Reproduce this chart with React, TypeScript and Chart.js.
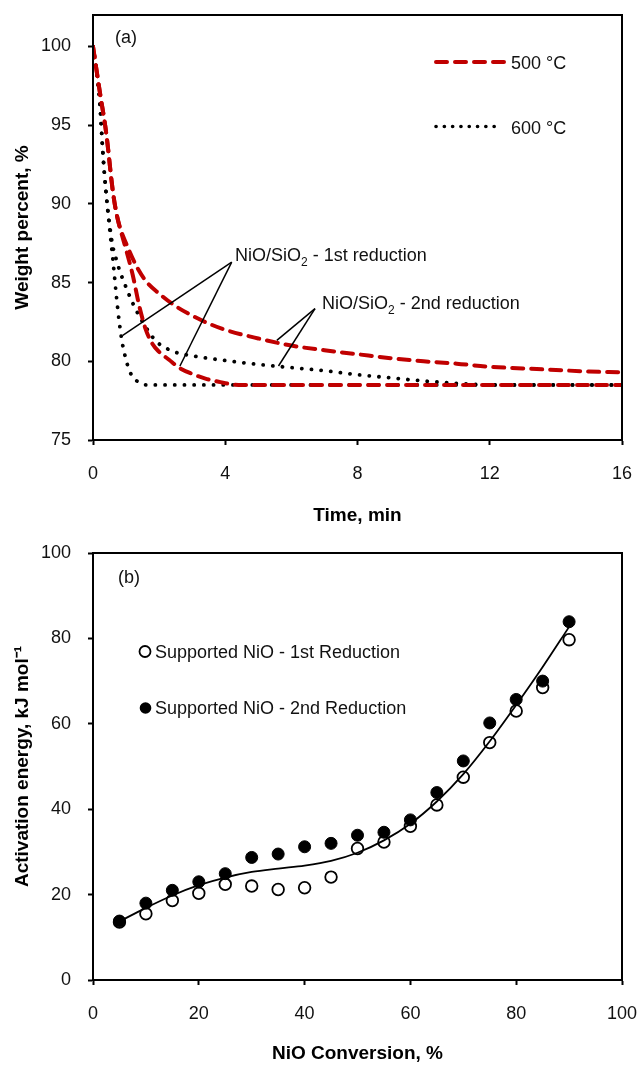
import React, { useEffect, useRef } from 'react';
import { Chart, registerables } from 'chart.js';

Chart.register(...registerables);

const FONT = '"Liberation Sans", Arial, Helvetica, sans-serif';
const TXT = '#111';
const H1 = 540; // height of the upper canvas
const H2 = 1066 - H1;

// ---------- Chart (a): weight percent vs time ----------
const timeTicks = [0, 4, 8, 12, 16];
const weightTicks = [75, 80, 85, 90, 95, 100];

const t500First = [0, 0.2, 0.4, 0.6, 0.7, 0.8, 1.0, 1.2, 1.4, 1.6, 1.8, 2.0, 2.3, 2.6, 3.0, 3.4, 3.8, 4.4, 5, 6, 8, 10, 12, 14, 16];
const w500First = [100, 97.2, 94.5, 90.8, 89.5, 88.6, 87.1, 85.5, 83.5, 82.0, 81.1, 80.6, 80.1, 79.6, 79.2, 78.9, 78.7, 78.5, 78.5, 78.5, 78.5, 78.5, 78.5, 78.5, 78.5];

const t500Second = [0, 0.2, 0.4, 0.6, 0.7, 0.8, 1.0, 1.3, 1.6, 2.0, 2.5, 3.0, 3.5, 4.0, 5.0, 6.0, 7.0, 8.0, 9, 10, 11, 12, 13, 14, 15, 16];
const w500Second = [100, 97.2, 94.5, 90.8, 89.5, 88.6, 87.5, 86.1, 85.1, 84.3, 83.5, 82.9, 82.4, 82.0, 81.45, 81.0, 80.7, 80.45, 80.2, 80.0, 79.85, 79.65, 79.55, 79.45, 79.35, 79.3];

const t600First = [0, 0.1, 0.2, 0.3, 0.4, 0.5, 0.6, 0.7, 0.8, 0.9, 1.0, 1.1, 1.25, 1.4, 1.6, 2, 3, 4, 6, 8, 10, 12, 14, 16];
const w600First = [100, 98.5, 96.6, 93.2, 90.6, 88.5, 86.5, 84.3, 82.4, 81.0, 80.1, 79.4, 78.9, 78.65, 78.5, 78.5, 78.5, 78.5, 78.5, 78.5, 78.5, 78.5, 78.5, 78.5];

const t600Second = [0, 0.1, 0.2, 0.3, 0.4, 0.5, 0.6, 0.7, 0.8, 1.0, 1.2, 1.5, 1.9, 2.4, 3, 4, 5, 6, 7, 8, 9, 10, 11, 12, 14, 16];
const w600Second = [100, 98.5, 96.6, 93.2, 90.6, 88.7, 87.3, 86.5, 85.8, 84.7, 83.7, 82.5, 81.3, 80.65, 80.35, 80.05, 79.8, 79.6, 79.4, 79.15, 78.95, 78.75, 78.6, 78.5, 78.5, 78.5];

// ---------- Chart (b): activation energy vs conversion ----------
const conversion = [5, 10, 15, 20, 25, 30, 35, 40, 45, 50, 55, 60, 65, 70, 75, 80, 85, 90];
const eaFirst = [13.6, 15.5, 18.6, 20.3, 22.4, 22.0, 21.2, 21.6, 24.1, 30.8, 32.3, 36.0, 41.0, 47.5, 55.6, 63.0, 68.5, 79.7];
const eaSecond = [13.8, 18.0, 21.0, 23.0, 24.9, 28.7, 29.5, 31.2, 32.0, 33.9, 34.6, 37.5, 43.9, 51.3, 60.2, 65.7, 70.0, 83.9];
const eaTrend = [13.7, 16.9, 19.8, 22.2, 24.0, 25.3, 26.1, 26.8, 27.9, 29.8, 32.7, 36.6, 41.8, 48.2, 55.9, 64.4, 73.3, 82.7];
const convTicks = [0, 20, 40, 60, 80, 100];
const eaTicks = [0, 20, 40, 60, 80, 100];

const zip = (xs: number[], ys: number[]) => xs.map((x, i) => ({ x, y: ys[i] }));

function drawRich(ctx: CanvasRenderingContext2D, x: number, y: number, parts: { t: string; sub?: boolean }[]) {
  let cx = x;
  ctx.textBaseline = 'alphabetic';
  ctx.textAlign = 'left';
  for (const p of parts) {
    ctx.font = p.sub ? `12px ${FONT}` : `18px ${FONT}`;
    ctx.fillText(p.t, cx, p.sub ? y + 5 : y);
    cx += ctx.measureText(p.t).width;
  }
}

const frameAxes = {
  grid: { display: true, drawOnChartArea: false, drawTicks: true, tickLength: 5, tickColor: '#000', tickWidth: 2 },
  border: { display: true, color: '#000', width: 2 },
};

const fitX = (h: number) => (s: any) => { s.height = h; s.paddingLeft = 0; s.paddingRight = 0; };
const fitY = (w: number) => (s: any) => { s.width = w; s.paddingTop = 0; s.paddingBottom = 0; };

function TopChart() {
  const ref = useRef<HTMLCanvasElement>(null);
  useEffect(() => {
    const plugin = {
      id: 'decorA',
      afterDraw(chart: any) {
        const { ctx, chartArea: a, scales } = chart;
        const X = (v: number) => scales.x.getPixelForValue(v);
        const Y = (v: number) => scales.y.getPixelForValue(v);
        ctx.save();
        ctx.strokeStyle = '#000';
        ctx.lineWidth = 2;
        ctx.strokeRect(a.left, a.top, a.right - a.left, a.bottom - a.top);
        // legend
        ctx.lineCap = 'round';
        ctx.strokeStyle = '#C00000';
        ctx.lineWidth = 4;
        ctx.setLineDash([11, 8]);
        ctx.beginPath(); ctx.moveTo(436, 62); ctx.lineTo(504, 62); ctx.stroke();
        ctx.strokeStyle = '#000';
        ctx.lineWidth = 3.6;
        ctx.setLineDash([0.1, 8.2]);
        ctx.beginPath(); ctx.moveTo(436, 126.5); ctx.lineTo(502, 126.5); ctx.stroke();
        ctx.setLineDash([]);
        ctx.fillStyle = TXT;
        ctx.font = `18px ${FONT}`;
        ctx.textBaseline = 'alphabetic';
        ctx.textAlign = 'left';
        ctx.fillText('500 °C', 511, 69);
        ctx.fillText('600 °C', 511, 134);
        ctx.fillText('(a)', 115, 43);
        // annotations
        ctx.lineWidth = 1.5;
        ctx.lineCap = 'butt';
        ctx.strokeStyle = '#000';
        const lines = [
          [[4.195, 86.3], [0.9, 81.65]],
          [[4.195, 86.3], [2.63, 79.7]],
          [[6.715, 83.35], [5.56, 81.33]],
          [[6.715, 83.35], [5.61, 79.7]],
        ];
        for (const [p, q] of lines) {
          ctx.beginPath(); ctx.moveTo(X(p[0]), Y(p[1])); ctx.lineTo(X(q[0]), Y(q[1])); ctx.stroke();
        }
        drawRich(ctx, 235, 261, [{ t: 'NiO/SiO' }, { t: '2', sub: true }, { t: ' - 1st reduction' }]);
        drawRich(ctx, 322, 309, [{ t: 'NiO/SiO' }, { t: '2', sub: true }, { t: ' - 2nd reduction' }]);
        ctx.restore();
      },
    };
    const red = { borderColor: '#C00000', borderWidth: 4, borderDash: [11, 8], borderCapStyle: 'round', pointRadius: 0, cubicInterpolationMode: 'monotone', fill: false };
    const blk = { borderColor: '#000', borderWidth: 3.8, borderDash: [0.1, 9.6], borderCapStyle: 'round', pointRadius: 0, cubicInterpolationMode: 'monotone', fill: false };
    const chart = new Chart(ref.current!, {
      type: 'line',
      data: {
        datasets: [
          { label: '500 °C', data: zip(t500First, w500First), ...red } as any,
          { label: '500 °C 2nd', data: zip(t500Second, w500Second), ...red } as any,
          { label: '600 °C', data: zip(t600First, w600First), ...blk } as any,
          { label: '600 °C 2nd', data: zip(t600Second, w600Second), ...blk } as any,
        ],
      },
      options: {
        responsive: false,
        animation: false,
        layout: { padding: { top: 15, right: 16, left: 0, bottom: 0 } },
        plugins: { legend: { display: false }, tooltip: { enabled: false } },
        scales: {
          x: {
            type: 'linear', min: 0, max: 16,
            afterBuildTicks: (s: any) => { s.ticks = timeTicks.map((v) => ({ value: v })); },
            afterFit: fitX(H1 - 440),
            ticks: { font: { family: FONT, size: 18 }, color: TXT, padding: 18, maxRotation: 0 },
            title: { display: true, text: 'Time, min', font: { family: FONT, size: 19, weight: 'bold' }, color: '#000', padding: { top: 0, bottom: 13 } },
            ...frameAxes,
          },
          y: {
            type: 'linear', min: 75, max: 102,
            afterBuildTicks: (s: any) => { s.ticks = weightTicks.map((v) => ({ value: v })); },
            afterFit: fitY(93),
            ticks: { font: { family: FONT, size: 18 }, color: TXT, padding: 17 },
            title: { display: true, text: 'Weight percent, %', font: { family: FONT, size: 19, weight: 'bold' }, color: '#000', padding: { top: 11, bottom: 0 } },
            ...frameAxes,
          },
        },
      } as any,
      plugins: [plugin],
    });
    return () => chart.destroy();
  }, []);
  return <canvas ref={ref} width={638} height={H1} style={{ display: 'block' }} />;
}

function BottomChart() {
  const ref = useRef<HTMLCanvasElement>(null);
  useEffect(() => {
    const plugin = {
      id: 'decorB',
      afterDraw(chart: any) {
        const { ctx, chartArea: a } = chart;
        const py = (absY: number) => absY - H1;
        ctx.save();
        ctx.strokeStyle = '#000';
        ctx.lineWidth = 2;
        ctx.strokeRect(a.left, a.top, a.right - a.left, a.bottom - a.top);
        ctx.fillStyle = TXT;
        ctx.font = `18px ${FONT}`;
        ctx.textBaseline = 'alphabetic';
        ctx.textAlign = 'left';
        ctx.fillText('(b)', 118, py(583));
        // legend markers
        ctx.lineWidth = 1.8;
        ctx.strokeStyle = '#000';
        ctx.beginPath(); ctx.arc(145, py(651.5), 5.5, 0, Math.PI * 2); ctx.fillStyle = '#fff'; ctx.fill(); ctx.stroke();
        ctx.beginPath(); ctx.arc(145.5, py(708), 5.8, 0, Math.PI * 2); ctx.fillStyle = '#000'; ctx.fill();
        ctx.fillStyle = TXT;
        ctx.fillText('Supported NiO - 1st Reduction', 155, py(658));
        ctx.fillText('Supported NiO - 2nd Reduction', 155, py(714));
        ctx.restore();
      },
    };
    const chart = new Chart(ref.current!, {
      type: 'line',
      data: {
        datasets: [
          { label: 'trend', data: zip(conversion, eaTrend), borderColor: '#000', borderWidth: 1.8, pointRadius: 0, cubicInterpolationMode: 'monotone', fill: false, order: 0 } as any,
          { label: 'Supported NiO - 2nd Reduction', data: zip(conversion, eaSecond), showLine: false, pointRadius: 6, pointBackgroundColor: '#000', pointBorderColor: '#000', pointBorderWidth: 1, order: 1 } as any,
          { label: 'Supported NiO - 1st Reduction', data: zip(conversion, eaFirst), showLine: false, pointRadius: 5.8, pointBackgroundColor: '#fff', pointBorderColor: '#000', pointBorderWidth: 1.8, order: 2 } as any,
        ],
      },
      options: {
        responsive: false,
        animation: false,
        layout: { padding: { top: 553 - H1, right: 16, left: 0, bottom: 0 } },
        plugins: { legend: { display: false }, tooltip: { enabled: false } },
        scales: {
          x: {
            type: 'linear', min: 0, max: 100,
            afterBuildTicks: (s: any) => { s.ticks = convTicks.map((v) => ({ value: v })); },
            afterFit: fitX(1066 - 980),
            ticks: { font: { family: FONT, size: 18 }, color: TXT, padding: 18, maxRotation: 0 },
            title: { display: true, text: 'NiO Conversion, %', font: { family: FONT, size: 19, weight: 'bold' }, color: '#000', padding: { top: 0, bottom: 1 } },
            ...frameAxes,
          },
          y: {
            type: 'linear', min: 0, max: 100,
            afterBuildTicks: (s: any) => { s.ticks = eaTicks.map((v) => ({ value: v })); },
            afterFit: fitY(93),
            ticks: { font: { family: FONT, size: 18 }, color: TXT, padding: 17 },
            title: { display: true, text: 'Activation energy, kJ mol⁻¹', font: { family: FONT, size: 19, weight: 'bold' }, color: '#000', padding: { top: 11, bottom: 0 } },
            ...frameAxes,
          },
        },
      } as any,
      plugins: [plugin],
    });
    return () => chart.destroy();
  }, []);
  return <canvas ref={ref} width={638} height={H2} style={{ display: 'block' }} />;
}

export default function App() {
  return (
    <div style={{ position: 'absolute', left: 0, top: 0, width: 638, height: 1066, background: '#fff' }}>
      <TopChart />
      <BottomChart />
    </div>
  );
}
